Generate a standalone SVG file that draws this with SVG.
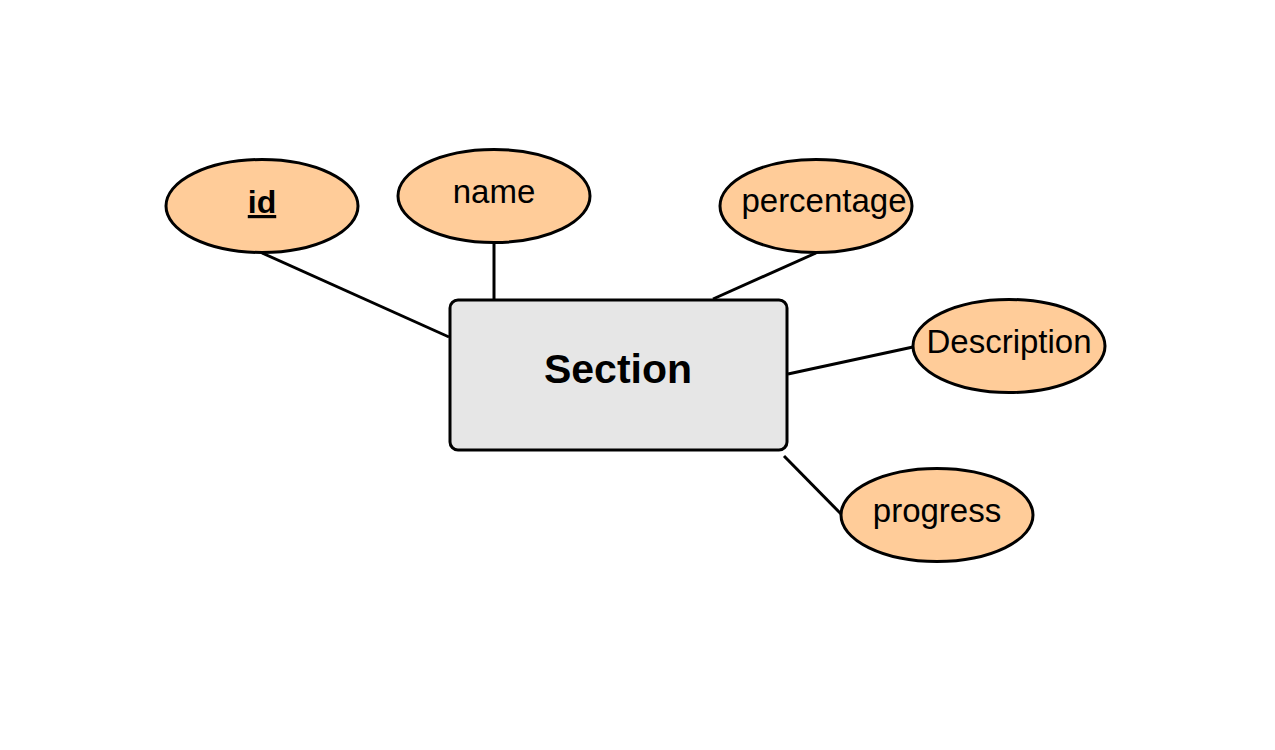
<svg xmlns="http://www.w3.org/2000/svg" width="1275" height="750" viewBox="0 0 1275 750">
<style>
.attr{fill:#ffcc99;stroke:#000;stroke-width:3}
.ent{fill:#e6e6e6;stroke:#000;stroke-width:3}
.t{font-family:"Liberation Sans",Arial,sans-serif;font-size:33px;fill:#000;text-anchor:middle}
.b{font-weight:bold}
.conn line{stroke:#000;stroke-width:3}
</style>
<rect width="1275" height="750" fill="#fff"/>
<g class="conn" id="connectors">
<line x1="262" y1="253" x2="449" y2="337"/>
<line x1="494" y1="243" x2="494" y2="299"/>
<line x1="816" y1="253" x2="713" y2="299"/>
<line x1="913" y1="347" x2="788" y2="374"/>
<line x1="784" y1="456" x2="845" y2="518"/>
</g>
<g id="section">
<rect class="ent" x="450" y="300" width="337" height="150" rx="8"/>
<text class="t b" x="618" y="383" style="font-size:41px">Section</text>
</g>
<g id="id">
<ellipse class="attr" cx="262" cy="206" rx="96" ry="46.5"/>
<text class="t b" x="262" y="213" text-decoration="underline" style="font-size:32px">id</text>
</g>
<g id="name">
<ellipse class="attr" cx="494" cy="196" rx="96" ry="46.5"/>
<text class="t" x="494" y="203">name</text>
</g>
<g id="percentage">
<ellipse class="attr" cx="816" cy="206" rx="96" ry="46.5"/>
<text class="t" x="824" y="212">percentage</text>
</g>
<g id="description">
<ellipse class="attr" cx="1009" cy="346" rx="96" ry="46.5"/>
<text class="t" x="1009" y="353">Description</text>
</g>
<g id="progress">
<ellipse class="attr" cx="937" cy="515" rx="96" ry="46.5"/>
<text class="t" x="937" y="522">progress</text>
</g>
</svg>
